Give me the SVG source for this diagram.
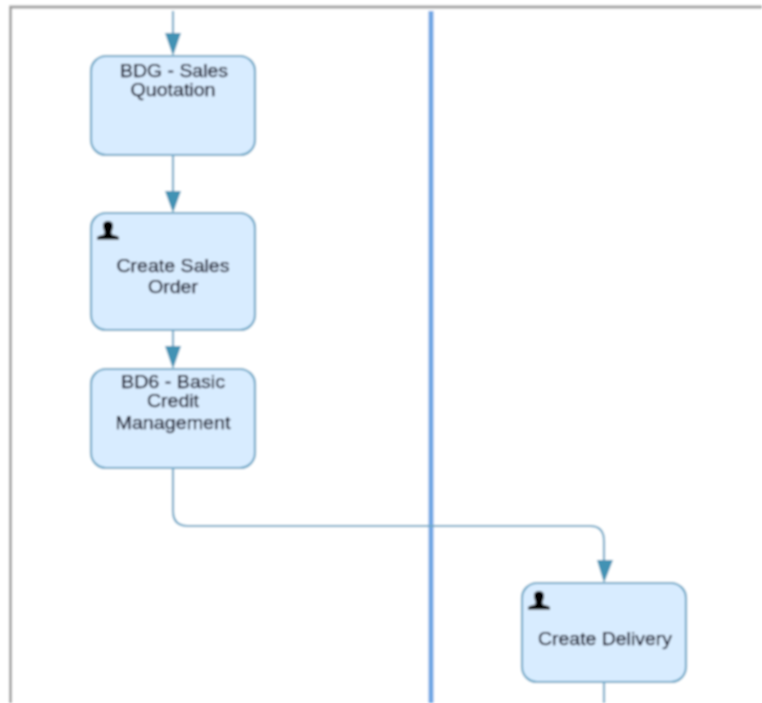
<svg xmlns="http://www.w3.org/2000/svg" width="762" height="703" viewBox="0 0 762 703">
<style>
.n{fill:#d8ecff;stroke:#6fa8c7;stroke-width:2.200}
.t{font-family:"Liberation Sans",Arial,sans-serif;font-size:18px;fill:#000018;stroke:#000018;stroke-width:0.250;text-anchor:middle}
.c{fill:none;stroke:#6fa8c7;stroke-width:2.200}
.a{fill:#4392b4}
.u{fill:#000}
</style>
<defs>
<filter id="soft" x="0" y="0" width="100%" height="100%" filterUnits="objectBoundingBox"><feGaussianBlur stdDeviation="0.800"/></filter>
<g id="user"><path class="u" d="M0 18.500V16.500C1 14.500 5.500 14.500 7.500 13V10.500C6.500 8.500 6 6.500 6 4.500C6 1.500 8.500 0 11 0C13.500 0 16 1.500 16 4.500C16 6.500 15.500 8.500 14.500 10.500V13C16.500 14.500 21 14.500 22 16.500V18.500Z"/></g>
</defs>
<g id="page" filter="url(#soft)">
<rect width="762" height="703" fill="#fff"/>
<path d="M762 7H10.500V703" fill="none" stroke="#a0a0a0" stroke-width="2.800"/>
<path d="M431 11V703" fill="none" stroke="#6ea6e4" stroke-width="5"/>
<g id="connectors">
<path class="c" d="M173 11V36"/><path class="a" d="M165 33H181L173 56Z"/>
<path class="c" d="M173 155V192"/><path class="a" d="M165 191H181L173 213Z"/>
<path class="c" d="M173 330V348"/><path class="a" d="M165 346H181L173 369Z"/>
<path class="c" d="M173 468V511Q173 526 188 526H590Q604 526 604 541V562"/><path class="a" d="M597 560H613L604 583Z"/>
<path class="c" d="M604 682V703"/>
</g>
<g id="node-quotation"><rect class="n" x="91" y="56" width="164" height="99" rx="15"/>
<text class="t" x="174" y="77" textLength="108" lengthAdjust="spacingAndGlyphs">BDG - Sales</text><text class="t" x="173" y="96" textLength="85" lengthAdjust="spacingAndGlyphs">Quotation</text></g>
<g id="node-sales-order"><rect class="n" x="91" y="213" width="164" height="117" rx="15"/><use href="#user" x="97" y="221"/>
<text class="t" x="173" y="272" textLength="113" lengthAdjust="spacingAndGlyphs">Create Sales</text><text class="t" x="173" y="293" textLength="50" lengthAdjust="spacingAndGlyphs">Order</text></g>
<g id="node-credit"><rect class="n" x="91" y="369" width="164" height="99" rx="15"/>
<text class="t" x="173" y="388" textLength="104" lengthAdjust="spacingAndGlyphs">BD6 - Basic</text><text class="t" x="173" y="407" textLength="52" lengthAdjust="spacingAndGlyphs">Credit</text><text class="t" x="173" y="429" textLength="115" lengthAdjust="spacingAndGlyphs">Management</text></g>
<g id="node-delivery"><rect class="n" x="522" y="583" width="164" height="99" rx="15"/><use href="#user" x="528" y="591"/>
<text class="t" x="605" y="645" textLength="134" lengthAdjust="spacingAndGlyphs">Create Delivery</text></g>
</g>
</svg>
